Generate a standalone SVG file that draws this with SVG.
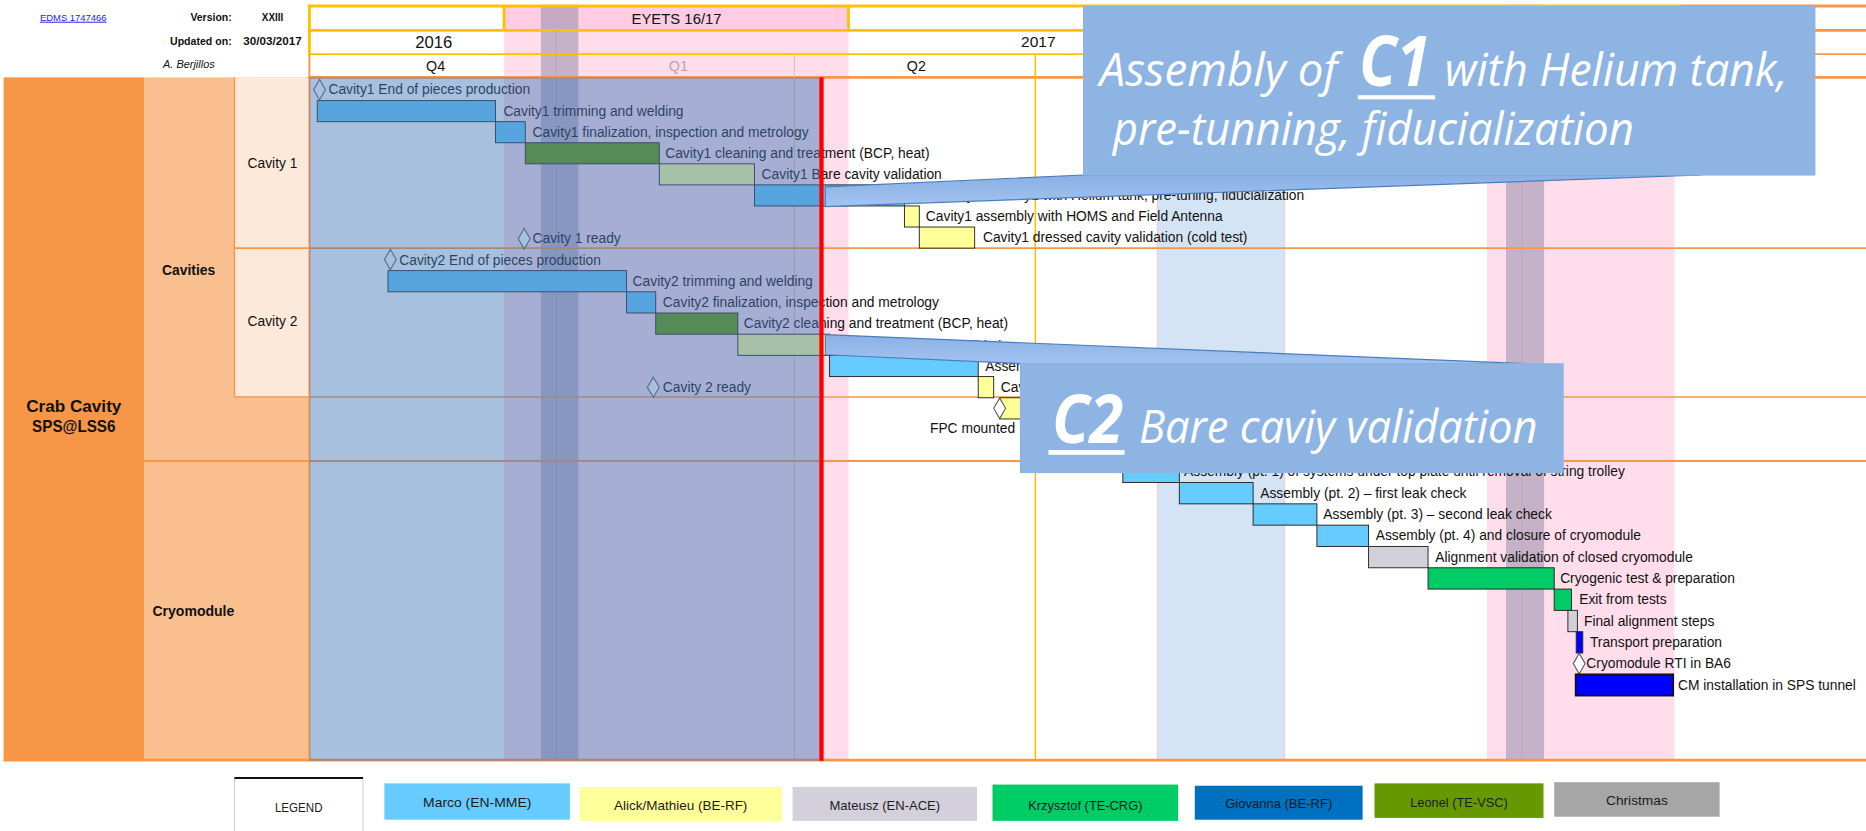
<svg xmlns="http://www.w3.org/2000/svg" width="1866" height="831" viewBox="0 0 1866 831">
<defs>
<style>
.t{font-family:"Liberation Sans",Arial,sans-serif;font-size:11.6px;fill:#111111}
.h{font-family:"Liberation Sans",Arial,sans-serif;fill:#111111}
.bd{font-weight:bold}
.bar{stroke:#262626;stroke-width:0.8}
.m{fill:#66CCFF}.a{fill:#FFFF99}.g{fill:#D3D0DC}.k{fill:#00CC66}.v{fill:#669900}.b{fill:#0000FF}
.ms{fill:#ffffff;stroke:#5a5a5a;stroke-width:0.9}
.ct{font-family:"Open Sans","Noto Sans","Liberation Sans",sans-serif;font-style:italic;fill:#ffffff}
.gold{stroke:#FFC000;fill:none}.org{stroke:#F79646;fill:none}
.pink{fill:#FFDDEA}.xmas{fill:#80809F;fill-opacity:0.46}
.lg{font-family:"Liberation Sans",Arial,sans-serif;font-size:11.3px;fill:#1c1c1c;text-anchor:middle}
.ptr{fill:url(#pg);stroke:#4A7EBB;stroke-width:1}
.cbox{fill:#8EB4E3}
</style>
<linearGradient id="pg" x1="0" y1="0" x2="0" y2="1"><stop offset="0" stop-color="#8AB0E4"/><stop offset="1" stop-color="#A3C3F2"/></linearGradient>
</defs>
<rect width="1866" height="831" fill="#ffffff"/>
<g transform="scale(1.19005 1.19054)">

<g id="left-columns">
<rect x="3" y="65" width="118" height="574" fill="#F79646"/>
<rect x="121" y="65" width="139" height="574" fill="#FABF8F"/>
<rect x="197" y="65" width="63" height="268.5" fill="#FDE9D9"/>
<text class="h bd" x="62" y="346" font-size="14" text-anchor="middle" textLength="80" lengthAdjust="spacingAndGlyphs">Crab Cavity</text>
<text class="h bd" x="62" y="362.5" font-size="14" text-anchor="middle" textLength="70" lengthAdjust="spacingAndGlyphs">SPS@LSS6</text>
<text class="h bd" x="158.5" y="231" font-size="11.7" text-anchor="middle">Cavities</text>
<text class="h bd" x="162.5" y="517" font-size="11.8" text-anchor="middle">Cryomodule</text>
<text class="h" x="229" y="141" font-size="11.6" text-anchor="middle">Cavity 1</text>
<text class="h" x="229" y="274" font-size="11.6" text-anchor="middle">Cavity 2</text>
</g>

<g id="header-info">
<text class="h" x="33.6" y="17.4" font-size="8" style="fill:#1a1aee" text-decoration="underline" textLength="56" lengthAdjust="spacingAndGlyphs">EDMS 1747466</text>
<text class="h bd" x="194.7" y="17.4" font-size="8.8" text-anchor="end">Version:</text>
<text class="h bd" x="220" y="17.6" font-size="9" textLength="18" lengthAdjust="spacingAndGlyphs">XXIII</text>
<text class="h bd" x="194.7" y="37.8" font-size="8.9" text-anchor="end">Updated on:</text>
<text class="h bd" x="204.5" y="37.8" font-size="9" textLength="49" lengthAdjust="spacingAndGlyphs">30/03/2017</text>
<text class="h" x="137" y="57.5" font-size="9.2" font-style="italic">A. Berjillos</text>
</g>

<g id="backgrounds">
<rect x="423.5" y="5" width="289.5" height="20.5" fill="#FFCCE1"/>
<rect class="pink" x="423.5" y="25.5" width="289.5" height="613.5"/>
<rect class="pink" x="1249.5" y="25.5" width="157.5" height="613.5"/>
<rect x="972.5" y="65" width="107" height="574" fill="#D5E4F4"/>
<line x1="972.5" y1="65" x2="972.5" y2="639" stroke="#F4C4C8" stroke-width="0.8"/>
<line x1="1079.5" y1="65" x2="1079.5" y2="639" stroke="#F4C4C8" stroke-width="0.8"/>
<rect class="xmas" x="454.5" y="4" width="31.5" height="635"/>
<rect class="xmas" x="1265.5" y="4" width="32" height="635"/>
</g>

<g id="grid">
<line class="gold" x1="259" y1="5" x2="1412" y2="5" stroke-width="2.4"/>
<line class="org" x1="1412" y1="5" x2="1568" y2="5" stroke-width="2.4"/>
<line class="gold" x1="259" y1="25.5" x2="1412" y2="25.5" stroke-width="2.4"/>
<line class="org" x1="1412" y1="25.5" x2="1568" y2="25.5" stroke-width="2.4"/>
<line class="gold" x1="259" y1="45.5" x2="1412" y2="45.5" stroke-width="1.4"/>
<line class="org" x1="1412" y1="45.5" x2="1568" y2="45.5" stroke-width="1.4"/>
<line class="org" x1="259" y1="65" x2="1568" y2="65" stroke-width="2.4"/>
<line class="gold" x1="260" y1="4" x2="260" y2="45.5" stroke-width="2.4"/>
<line class="org" x1="260" y1="45.5" x2="260" y2="639" stroke-width="1.6"/>
<line class="gold" x1="423.5" y1="4" x2="423.5" y2="25.5" stroke-width="2.4"/>
<line class="gold" x1="713" y1="4" x2="713" y2="25.5" stroke-width="2.4"/>
<line x1="467.5" y1="25.5" x2="467.5" y2="639" stroke="#B8A8B8" stroke-width="0.8"/>
<line x1="1279" y1="25.5" x2="1279" y2="639" stroke="#B8A8B8" stroke-width="0.8"/>
<line x1="667.5" y1="45.5" x2="667.5" y2="639" stroke="#D9C2B8" stroke-width="0.9"/>
<line class="gold" x1="870" y1="45.5" x2="870" y2="639" stroke-width="1.3"/>
<line class="org" x1="197" y1="65" x2="197" y2="333.5" stroke-width="1.2"/>
<line class="org" x1="197" y1="208.4" x2="1568" y2="208.4" stroke-width="1.3"/>
<line class="org" x1="197" y1="333.5" x2="1568" y2="333.5" stroke-width="1.3"/>
<line class="org" x1="121" y1="387.2" x2="1568" y2="387.2" stroke-width="1.8"/>
<line class="org" x1="3" y1="638.5" x2="1568" y2="638.5" stroke-width="2.2"/>
<text class="h" x="364.5" y="40.6" font-size="14" text-anchor="middle">2016</text>
<text class="h" x="872.5" y="39.8" font-size="13" text-anchor="middle">2017</text>
<text class="h" x="568.5" y="20.2" font-size="12.5" text-anchor="middle">EYETS 16/17</text>
<text class="h" x="366" y="59.5" font-size="12" text-anchor="middle">Q4</text>
<text class="h" x="570" y="59.5" font-size="12" text-anchor="middle" style="fill:#B4A4AC">Q1</text>
<text class="h" x="770" y="59.5" font-size="12" text-anchor="middle">Q2</text>
</g>

<g id="cavity1-tasks">
<g id="c1-end-pieces"><path class="ms" d="M268.5,66.8 L273.5,75.3 L268.5,83.8 L263.5,75.3 Z"/><text class="t" x="276" y="79.3">Cavity1 End of pieces production</text></g>
<g id="c1-trimming"><rect class="bar m" x="266.6" y="84.5" width="149.8" height="17.7"/><text class="t" x="423" y="97.3">Cavity1 trimming and welding</text></g>
<g id="c1-finalization"><rect class="bar m" x="416.4" y="102.2" width="25" height="17.7"/><text class="t" x="447.5" y="115">Cavity1 finalization, inspection and metrology</text></g>
<g id="c1-cleaning"><rect class="bar v" x="441.4" y="119.9" width="112.6" height="17.7"/><text class="t" x="559" y="132.7">Cavity1 cleaning and treatment (BCP, heat)</text></g>
<g id="c1-bare"><rect class="bar a" x="554" y="137.6" width="80" height="17.7"/><text class="t" x="640" y="150.4">Cavity1 Bare cavity validation</text></g>
<g id="c1-helium"><rect class="bar m" x="634" y="155.3" width="126" height="17.7"/><text class="t" x="768" y="168.1">Assembly of Cavity1 with Helium tank, pre-tuning, fiducialization</text></g>
<g id="c1-homs"><rect class="bar a" x="760" y="173" width="12.5" height="17.7"/><text class="t" x="778" y="185.8">Cavity1 assembly with HOMS and Field Antenna</text></g>
<g id="c1-dressed"><rect class="bar a" x="772.5" y="190.7" width="46.5" height="17.7"/><text class="t" x="826" y="203.5">Cavity1 dressed cavity validation (cold test)</text></g>
<g id="c1-ready"><path class="ms" d="M440.5,192 L445.5,200.6 L440.5,209.2 L435.5,200.6 Z"/><text class="t" x="447.5" y="204.5">Cavity 1 ready</text></g>
</g>

<g id="cavity2-tasks">
<g id="c2-end-pieces"><path class="ms" d="M328,209.5 L333,218 L328,226.5 L323,218 Z"/><text class="t" x="335.5" y="222.3">Cavity2 End of pieces production</text></g>
<g id="c2-trimming"><rect class="bar m" x="326" y="227.3" width="200.5" height="17.8"/><text class="t" x="531.6" y="240.1">Cavity2 trimming and welding</text></g>
<g id="c2-finalization"><rect class="bar m" x="526.5" y="245.1" width="24.5" height="17.8"/><text class="t" x="557" y="257.9">Cavity2 finalization, inspection and metrology</text></g>
<g id="c2-cleaning"><rect class="bar v" x="551" y="262.9" width="69" height="17.8"/><text class="t" x="625" y="275.7">Cavity2 cleaning and treatment (BCP, heat)</text></g>
<g id="c2-bare"><rect class="bar a" x="620" y="280.7" width="77" height="17.8"/><text class="t" x="703" y="294.8">Cavity2 Bare cavity validation</text></g>
<g id="c2-helium"><rect class="bar m" x="697" y="298.5" width="125" height="17.8"/><text class="t" x="828" y="311.3">Assem</text></g>
<g id="c2-homs"><rect class="bar a" x="822" y="316.3" width="13" height="17.8"/><text class="t" x="841" y="329.1">Cav</text></g>
<g id="c2-ready"><path class="ms" d="M549,316.8 L554,325.2 L549,333.6 L544,325.2 Z"/><text class="t" x="557" y="329.1">Cavity 2 ready</text></g>
<g id="c2-fpc"><rect class="bar a" x="840" y="334.1" width="40" height="17.8"/><path class="ms" d="M840,334.4 L845,343 L840,351.6 L835,343 Z"/><text class="t" x="853" y="364" text-anchor="end">FPC mounted</text></g>
</g>

<g id="cryomodule-tasks">
<g id="cm-pt1"><rect class="bar m" x="943.5" y="387.4" width="47.5" height="17.9"/><text class="t" x="995" y="400.2">Assembly (pt. 1) of systems under top plate until removal of string trolley</text></g>
<g id="cm-pt2"><rect class="bar m" x="991" y="405.3" width="62" height="17.9"/><text class="t" x="1059" y="418.1">Assembly (pt. 2) – first leak check</text></g>
<g id="cm-pt3"><rect class="bar m" x="1053" y="423.2" width="53.6" height="17.9"/><text class="t" x="1112" y="436">Assembly (pt. 3) – second leak check</text></g>
<g id="cm-pt4"><rect class="bar m" x="1106.6" y="441.1" width="43.4" height="17.9"/><text class="t" x="1156" y="453.9">Assembly (pt. 4) and closure of cryomodule</text></g>
<g id="cm-align"><rect class="bar g" x="1150" y="459" width="50" height="17.9"/><text class="t" x="1206" y="471.8">Alignment validation of closed cryomodule</text></g>
<g id="cm-cryo"><rect class="bar k" x="1200" y="476.9" width="106" height="17.9"/><text class="t" x="1311" y="489.7">Cryogenic test &amp; preparation</text></g>
<g id="cm-exit"><rect class="bar k" x="1306" y="494.8" width="14.5" height="17.9"/><text class="t" x="1327" y="507.6">Exit from tests</text></g>
<g id="cm-final"><rect class="bar g" x="1317.5" y="512.7" width="8" height="17.9"/><text class="t" x="1331" y="525.5">Final alignment steps</text></g>
<g id="cm-transport"><rect class="bar b" x="1324.5" y="530.6" width="5.5" height="17.9"/><text class="t" x="1336" y="543.4">Transport preparation</text></g>
<g id="cm-rti"><path class="ms" d="M1327,548.8 L1332,557.4 L1327,566 L1322,557.4 Z"/><text class="t" x="1333" y="561.3">Cryomodule RTI in BA6</text></g>
<g id="cm-install"><rect class="b" x="1324" y="566.4" width="82" height="17.9" stroke="#111" stroke-width="1.4"/><text class="t" x="1410" y="579.2">CM installation in SPS tunnel</text></g>
</g>

<g id="done-overlay">
<rect x="260" y="65" width="430" height="574" fill="#4479B9" fill-opacity="0.47"/>
<rect x="688.5" y="65" width="3.6" height="574" fill="#FF0000"/>
</g>

<g id="connectors">
<polygon class="ptr" points="693.5,157 910,147 1430,147 693.5,173.5"/>
<polygon class="ptr" points="693.5,281 1282,305.5 860,305.5 693.5,298"/>
</g>

<g id="callout-c1">
<rect class="cbox" x="910" y="5" width="615.5" height="142.5"/>
<text class="ct" x="924" y="72" font-size="38" textLength="200" lengthAdjust="spacingAndGlyphs">Assembly of</text>
<text class="ct" x="1142" y="72" font-size="58" font-weight="bold" textLength="60" lengthAdjust="spacingAndGlyphs">C1</text>
<rect x="1141" y="80" width="65" height="3.5" fill="#ffffff"/>
<text class="ct" x="1214" y="72" font-size="38" textLength="288" lengthAdjust="spacingAndGlyphs">with Helium tank,</text>
<text class="ct" x="935" y="122" font-size="38" textLength="438" lengthAdjust="spacingAndGlyphs">pre-tunning, fiducialization</text>
</g>

<g id="callout-c2">
<rect class="cbox" x="857" y="305" width="457" height="92.4"/>
<text class="ct" x="884" y="372" font-size="56" font-weight="bold" textLength="60" lengthAdjust="spacingAndGlyphs">C2</text>
<rect x="881" y="378" width="64" height="4" fill="#ffffff"/>
<text class="ct" x="957" y="372" font-size="38" textLength="335" lengthAdjust="spacingAndGlyphs">Bare caviy validation</text>
</g>

<g id="legend">
<g id="lg-legend"><rect x="197" y="653.5" width="108" height="46" fill="#ffffff" stroke="#c8c8c8" stroke-width="0.8"/><line x1="197" y1="653.5" x2="305" y2="653.5" stroke="#111" stroke-width="1.8"/><text class="lg" x="251" y="682" font-size="10" textLength="40" lengthAdjust="spacingAndGlyphs">LEGEND</text></g>
<g id="lg-marco"><rect x="323" y="658" width="156" height="30.5" fill="#66CCFF"/><text class="lg" x="401" y="678" textLength="91" lengthAdjust="spacingAndGlyphs">Marco (EN-MME)</text></g>
<g id="lg-alick"><rect x="487" y="661" width="170" height="28.5" fill="#FFFF99"/><text class="lg" x="572" y="680" textLength="112" lengthAdjust="spacingAndGlyphs">Alick/Mathieu (BE-RF)</text></g>
<g id="lg-mateusz"><rect x="666" y="661" width="155" height="28.5" fill="#D3D0DC"/><text class="lg" x="743.5" y="680" textLength="93" lengthAdjust="spacingAndGlyphs">Mateusz (EN-ACE)</text></g>
<g id="lg-krzysztof"><rect x="834" y="659" width="156" height="30.5" fill="#00CC66"/><text class="lg" x="912" y="680" textLength="96" lengthAdjust="spacingAndGlyphs">Krzysztof (TE-CRG)</text></g>
<g id="lg-giovanna"><rect x="1004" y="660" width="141" height="28.5" fill="#0070C0"/><text class="lg" x="1074.5" y="679" textLength="90" lengthAdjust="spacingAndGlyphs">Giovanna (BE-RF)</text></g>
<g id="lg-leonel"><rect x="1155" y="658" width="142" height="29" fill="#669900"/><text class="lg" x="1226" y="678" textLength="82" lengthAdjust="spacingAndGlyphs">Leonel (TE-VSC)</text></g>
<g id="lg-christmas"><rect x="1306" y="657" width="139" height="29" fill="#A6A6A6"/><text class="lg" x="1375.5" y="676" textLength="52" lengthAdjust="spacingAndGlyphs">Christmas</text></g>
</g>

</g>
</svg>
